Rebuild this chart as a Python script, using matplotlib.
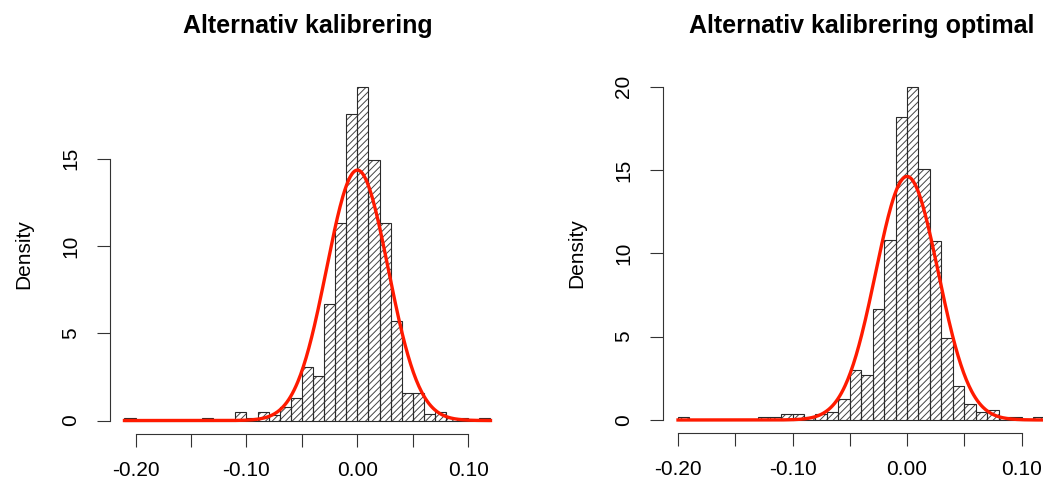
import numpy as np
import matplotlib
matplotlib.use("Agg")
from matplotlib import pyplot as plt

plt.rcParams["font.family"] = ["Liberation Sans", "DejaVu Sans"]
plt.rcParams["hatch.linewidth"] = 0.7

## histogram densities (bin width 0.01)
breaks_left = np.round(np.arange(-0.21, 0.1201, 0.01), 2)
dens_left = [0.17, 0, 0, 0, 0, 0, 0, 0.17, 0, 0, 0.5, 0.17, 0.5, 0.33, 0.77, 1.27,
             3.05, 2.55, 6.68, 11.3, 17.55, 19.13, 14.95, 11.3, 5.72, 1.59, 1.59,
             0.36, 0.5, 0.17, 0.17, 0, 0.17]
mean_left, sd_left = 0.0, 0.0278

breaks_right = np.round(np.arange(-0.20, 0.1201, 0.01), 2)
dens_right = [0.16, 0, 0, 0, 0, 0, 0, 0.16, 0.16, 0.33, 0.33, 0.16, 0.33, 0.46, 1.24,
              3.0, 2.7, 6.66, 10.78, 18.2, 20.0, 15.08, 10.76, 4.9, 2.04, 0.94, 0.46,
              0.6, 0.16, 0.16, 0, 0.16]
mean_right, sd_right = 0.0, 0.0273

titles = ["Alternativ kalibrering", "Alternativ kalibrering optimal"]
yticks_left = [0, 5, 10, 15]
yticks_right = [0, 5, 10, 15, 20]
xticks = [-0.20, -0.15, -0.10, -0.05, 0.00, 0.05, 0.10]
xtick_labels = ["-0.20", "", "-0.10", "", "0.00", "", "0.10"]


def r_hist(ax, breaks, dens, mu, sd, yticks, title):
    lefts = breaks[:-1]
    # shading lines, then the bar borders on top
    ax.bar(lefts, dens, width=0.01, align="edge", color="none",
           edgecolor="#444444", hatch="/////", linewidth=0)
    ax.bar(lefts, dens, width=0.01, align="edge", fill=False,
           edgecolor="#2a2a2a", linewidth=0.8)

    # fitted normal curve
    xs = np.linspace(breaks[0], breaks[-1], 400)
    ys = np.exp(-0.5 * ((xs - mu) / sd) ** 2) / (sd * np.sqrt(2 * np.pi))
    ax.plot(xs, ys, color="#ff1a00", linewidth=2.4, zorder=5)

    # R style limits: range extended by 4 %
    span = breaks[-1] - breaks[0]
    ax.set_xlim(breaks[0] - 0.04 * span, breaks[-1] + 0.04 * span)
    ymax = max(dens)
    ax.set_ylim(-0.04 * ymax, ymax * 1.04)

    for s in ["top", "right"]:
        ax.spines[s].set_visible(False)
    ax.spines["bottom"].set_bounds(xticks[0], xticks[-1])
    ax.spines["left"].set_bounds(yticks[0], yticks[-1])
    for s in ["bottom", "left"]:
        ax.spines[s].set_color("#333333")
        ax.spines[s].set_linewidth(0.8)

    ax.set_xticks(xticks)
    ax.set_xticklabels(xtick_labels)
    ax.set_yticks(yticks)
    ax.tick_params(direction="out", length=9.5, width=0.8, color="#333333",
                   labelsize=15, pad=12)
    ax.tick_params(axis="x", pad=10)
    for lab in ax.get_yticklabels():
        lab.set_rotation(90)
        lab.set_va("center")

    ax.set_ylabel("Density", fontsize=15, va="center")
    ax.yaxis.set_label_coords(-0.218, 0.5)
    ax.set_title(title, fontsize=18, fontweight="bold", pad=29)


fig = plt.figure(figsize=(10.43, 4.83), dpi=100)
ax1 = fig.add_axes([0.1053, 0.1017, 0.379, 0.7464])
ax2 = fig.add_axes([0.636, 0.1029, 0.3794, 0.7453])

r_hist(ax1, breaks_left, dens_left, mean_left, sd_left, yticks_left, titles[0])
r_hist(ax2, breaks_right, dens_right, mean_right, sd_right, yticks_right, titles[1])

fig.savefig("out.png", dpi=100)
